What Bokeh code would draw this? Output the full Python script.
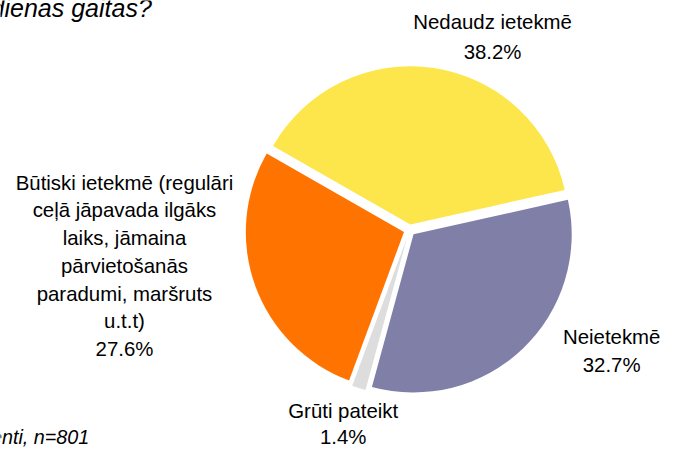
import math
from bokeh.plotting import figure
from bokeh.models import Range1d, ColumnDataSource
from bokeh.embed import file_html
from bokeh.resources import INLINE
from bokeh.core.properties import value

# ---- data ----
categories = [
    "Būtiski ietekmē (regulāri\nceļā jāpavada ilgāks\nlaiks, jāmaina\npārvietošanās\nparadumi, maršruts\nu.t.t)",
    "Nedaudz ietekmē",
    "Neietekmē",
    "Grūti pateikt",
]
shares = [27.6, 38.2, 32.7, 1.4]
colors = ["#FF7400", "#FDE64B", "#807FA8", "#DDDDDD"]
title_text = "ikdienas gaitas?"
note_text = "Bāze: visi respondenti, n=801"

# ---- layout (reference pixel space 676 x 465) ----
W, H = 676, 465
cx, cy = 418.9, H - 237.8
R = 162
start_deg = -110.3
explode = [6, 6, 6, 8]
label_pos = [(127, 197, 28.7), (504, 31, 30.5), (626, 357, 28.5), (351, 433, 27.5)]
FONT = "Liberation Sans"
TXT_SHIFT = 8.3   # compensation for rendered baseline offset (reference px)

total = sum(shares)
cum = 0.0
xs, ys, a_start, a_end = [], [], [], []
for v, d in zip(shares, explode):
    a1 = start_deg - cum / total * 360.0
    a0 = start_deg - (cum + v) / total * 360.0
    mid = math.radians((a0 + a1) / 2.0)
    xs.append(cx + d * math.cos(mid))
    ys.append(cy + d * math.sin(mid))
    a_start.append(math.radians(a0))
    a_end.append(math.radians(a1))
    cum += v

src = ColumnDataSource(dict(x=xs, y=ys, s=a_start, e=a_end, c=colors, v=shares))

p = figure(width=660, height=449, x_range=Range1d(0, W), y_range=Range1d(0, H),
           output_backend="svg", toolbar_location=None, min_border=0,
           x_axis_type=None, y_axis_type=None)
p.grid.visible = False
p.outline_line_color = None
p.background_fill_color = "white"
p.border_fill_color = "white"

p.wedge(x="x", y="y", radius=R, start_angle="s", end_angle="e",
        fill_color="c", line_color=None, direction="anticlock", source=src)

# labels
lx, ly, lt = [], [], []
for i, cat in enumerate(categories):
    px, py, sp = label_pos[i]
    lines = cat.split("\n") + [f"{shares[i]:.1f}%"]
    for j, line in enumerate(lines):
        lx.append(px)
        ly.append(H - (py + j * sp) + TXT_SHIFT)
        lt.append(line)
p.text(x=lx, y=ly, text=lt, text_align="center", text_baseline="alphabetic",
       text_font=value(FONT), text_font_size="20.4px", text_color="black")

# partially visible title and note (cut at the left edge, as in the reference)
p.text(x=[155], y=[H - 12 + 4.5], text=[title_text], text_align="right",
       text_baseline="alphabetic", text_font=value(FONT), text_font_style="italic",
       text_font_size="25px", text_color="black")
p.text(x=[91], y=[H - 460 + TXT_SHIFT], text=[note_text], text_align="right",
       text_baseline="alphabetic", text_font=value(FONT), text_font_style="italic",
       text_font_size="19.8px", text_color="black")

open("out.html", "w").write(file_html(p, INLINE))
